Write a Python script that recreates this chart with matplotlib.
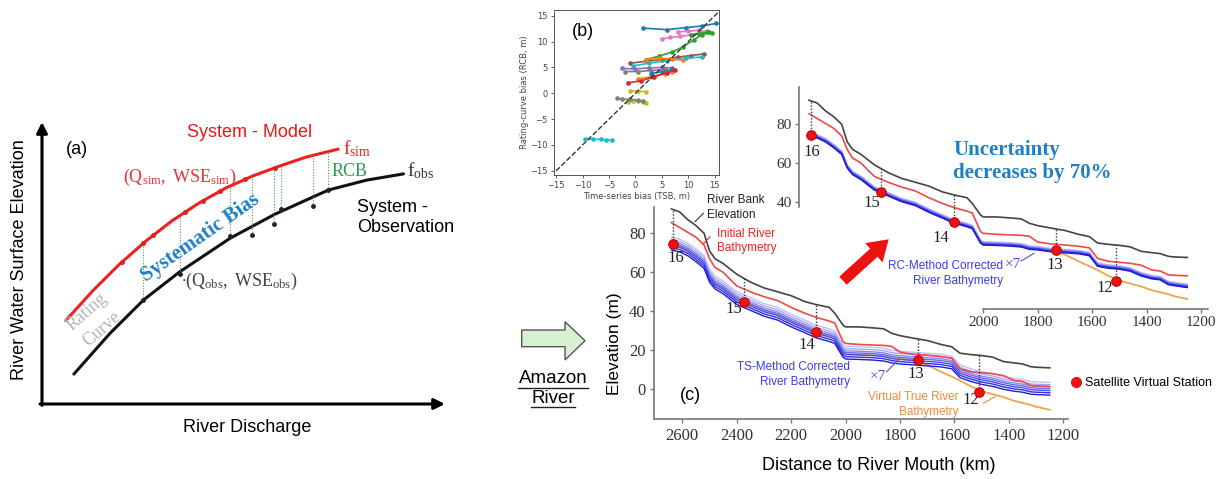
import numpy as np
import matplotlib
matplotlib.use('Agg')
import matplotlib.pyplot as plt
from matplotlib.lines import Line2D
from matplotlib.patches import Polygon, FancyArrow

plt.rcParams['font.family'] = ['Liberation Sans', 'DejaVu Sans']
plt.rcParams['mathtext.fontset'] = 'custom'
plt.rcParams['mathtext.rm'] = 'Liberation Serif'
plt.rcParams['mathtext.it'] = 'Liberation Serif:italic'
plt.rcParams['mathtext.bf'] = 'Liberation Serif:bold'

W, H = 1220, 479
SERIF = 'Liberation Serif'

# ---------------- data: (a) rating-curve schematic (arbitrary units) ----------------
sim_q = [5.9, 12.5, 19.1, 25.7, 32.3, 39.0, 45.6, 52.2, 58.8, 65.4, 73.5]
sim_wse = [29.6, 40.0, 49.4, 57.7, 65.0, 71.3, 76.6, 80.8, 84.3, 87.5, 90.4]
obs_q = [7.9, 16.9, 25.2, 34.2, 46.7, 57.8, 71.1, 80.6, 89.7]
obs_wse = [10.6, 25.1, 36.9, 46.9, 58.8, 67.3, 75.9, 79.4, 81.6]
sim_pts_q = [19.8, 25.1, 27.6, 35.5, 40.0, 44.2, 50.4, 57.8]
obs_pts_q = [25.1, 34.2, 46.7, 52.0, 57.6, 59.2, 67.3, 71.0]
obs_pts_wse = [36.9, 46.1, 59.6, 59.9, 63.8, 69.3, 70.2, 75.9]

# ---------------- data: (b) TSB vs RCB per station ----------------
tsb_series = [
    [1.5, 6.0, 9.5, 12.5, 15.3],
    [5.0, 6.5, 8.5, 10.5, 12.5, 13.5],
    [8.0, 10.0, 12.0],
    [2.0, 4.5, 7.0, 9.0, 11.0, 12.5, 14.0],
    [10.5, 12.0, 13.5, 14.5],
    [-1.0, 2.0, 5.0, 8.0, 10.5, 13.0],
    [-0.5, 2.5, 6.0, 9.5, 12.5],
    [2.0, 4.5, 7.0, 9.0],
    [0.5, 3.0, 5.5, 7.0],
    [-2.5, 0.0, 2.5, 5.0, 7.0],
    [-2.0, 0.5, 3.0, 5.5],
    [3.0, 5.0, 7.0],
    [-1.5, 1.0, 3.5, 6.0, 7.5],
    [-1.0, 0.5, 2.0],
    [-1.5, -0.5, 0.5, 1.5, 2.0],
    [-3.5, -2.5, -1.0, 0.5, 1.5],
    [-9.5, -8.0, -6.5, -5.5, -4.5],
]
rcb_series = [
    [12.6, 12.3, 12.7, 13.0, 13.5],
    [10.5, 10.8, 11.0, 11.3, 11.8, 12.0],
    [11.9, 12.0, 12.2],
    [6.5, 7.2, 8.0, 9.0, 10.3, 11.3, 11.8],
    [11.2, 11.5, 11.8, 11.6],
    [5.8, 6.2, 6.5, 7.0, 7.3, 7.6],
    [5.3, 5.8, 6.3, 6.8, 7.0],
    [6.5, 6.8, 6.6, 6.4],
    [2.8, 3.2, 3.8, 4.2],
    [4.8, 4.7, 4.9, 5.0, 4.9],
    [4.2, 4.2, 4.4, 4.6],
    [3.8, 4.2, 4.6],
    [2.0, 2.4, 3.2, 4.0, 4.5],
    [0.5, 0.4, 0.3],
    [-1.6, -1.5, -1.5, -1.6, -1.9],
    [-1.0, -1.1, -1.2, -1.3, -1.5],
    [-8.8, -8.9, -8.9, -9.0, -9.1],
]
b_colors = ['#1f77b4', '#e377c2', '#e377c2', '#2ca02c', '#2ca02c', '#8c564b', '#17becf',
            '#ff7f0e', '#ff7f0e', '#9467bd', '#7f7f7f', '#1f77b4', '#d62728', '#bcbd22',
            '#bcbd22', '#7f7f7f', '#17becf']
one_to_one = [-16, 16]

# ---------------- data: (c) Amazon river profile ----------------
river_km = [2640, 2610, 2580, 2550, 2520, 2500, 2480, 2450, 2400, 2350, 2300, 2250, 2200,
            2150, 2110, 2060, 2040, 2010, 2000, 1950, 1900, 1860, 1830, 1800, 1750, 1700,
            1650, 1610, 1580, 1540, 1500, 1460, 1420, 1380, 1350, 1320, 1300, 1250]
bank_elev = [92.5, 91, 87, 84, 80, 71, 67, 64.5, 59, 55, 52, 50, 48,
             45, 43.5, 42, 39, 33, 32, 32, 31.5, 31, 28.7, 27.5, 26.2, 25,
             23, 21.8, 18.5, 17.8, 17.3, 16.5, 14.2, 13.5, 13, 11.6, 11.3, 11]
initial_bathy = [85.5, 83, 80.5, 78, 74, 67, 62.5, 60, 53, 50, 47.5, 45.5, 42,
                 39, 37, 35, 34, 24.5, 23.5, 23, 22.7, 22.5, 22, 19, 18, 17.5,
                 16.8, 16, 10.5, 9, 8.5, 8, 7, 4.5, 4, 2, 1.8, 1.5]
true_bathy = [74.5, 73.5, 71.5, 68.5, 65, 58, 54.5, 52, 46.5, 43.5, 40.5, 38.5, 35,
              32, 29.5, 27.5, 26.5, 19, 18, 17.8, 17.5, 17, 15.8, 15.5, 15, 12.5,
              9, 6.5, 4.5, 1.5, -1, -2.5, -4, -6, -7, -8, -9, -10.5]
ts_center = [74.5, 73.5, 71.5, 68.5, 65, 58, 54.5, 52, 46.5, 43.5, 40.5, 38.5, 35,
             32, 29.5, 27.5, 26.5, 19.5, 18.5, 18.3, 18, 17.5, 16.5, 16, 15.5, 15,
             14.5, 13.5, 9, 7, 5.5, 4.5, 3, 2, 1.5, 0.5, 0.3, 0]
ts_offsets = [3.5, 2.3, 1.2, 0.3, -0.7, -1.8, -3.0]
rc_center = [74.5, 73.5, 71.5, 68.5, 65, 58, 54.5, 52, 46.5, 43.5, 40.5, 38.5, 35,
             32, 29.5, 27.5, 26.5, 19, 18, 17.8, 17.5, 17, 15.8, 15.5, 14.5, 14,
             13.5, 12.5, 7, 6, 5.5, 4.5, 2, 0.5, 0, -2.5, -3, -4]
rc_offsets = [1.2, 0.8, 0.5, 0.2, 0.0, -0.3, -0.6]
ens_colors = ['#c0c0f6', '#a8a8f4', '#8888f0', '#6868ee', '#4a4aea', '#3030e4', '#1c1cd6']
station_names = ['16', '15', '14', '13', '12']
station_km = [2634, 2375, 2108, 1733, 1511]
station_elev = [74.5, 44.9, 29.2, 15.0, -1.2]

# label layout (offset points)
main_lbl_off = [(2, -10), (-7, -5), (-7, -9), (-2, -10), (-6, -6)]
inset_lbl_off = [(1, -12), (-7, -8), (-9, -11), (-1, -11), (-8, -5)]

fig = plt.figure(figsize=(W / 100, H / 100), dpi=100)


def box(l, t, r, b):
    return [l / W, 1 - b / H, (r - l) / W, (b - t) / H]


# ======================= (a) =======================
axa = fig.add_axes(box(42, 122, 445, 404))
axa.set_xlim(0, 100)
axa.set_ylim(0, 100)
axa.axis('off')
arw = dict(arrowstyle='-|>', lw=2.2, color='black', mutation_scale=16, shrinkA=0, shrinkB=0)
axa.annotate('', xy=(0, 100), xytext=(0, -0.5), arrowprops=arw, annotation_clip=False)
axa.annotate('', xy=(100, 0), xytext=(-0.5, 0), arrowprops=arw, annotation_clip=False)

axa.plot(sim_q, sim_wse, color='#ee2020', lw=2.2, solid_capstyle='round')
axa.plot(obs_q, obs_wse, color='#111111', lw=2.2, solid_capstyle='round')
for q, w in zip(obs_pts_q, obs_pts_wse):
    axa.plot([q, q], [w, np.interp(q, sim_q, sim_wse)], ls=(0, (1, 1.5)), color='#3aa655', lw=0.8)
axa.plot(sim_pts_q, np.interp(sim_pts_q, sim_q, sim_wse), 'o', color='#dd2020', ms=2.5)
axa.plot(obs_pts_q, obs_pts_wse, 'o', color='#222222', ms=2.5)

axa.text(8.6, 90.4, '(a)', fontsize=13, ha='center', va='center')
axa.text(51.6, 96.1, 'System - Model', fontsize=13, color='#f01515', ha='center', va='center')
axa.text(74.6, 90.4, r'$\mathrm{f_{sim}}$', fontsize=14, color='#ee2020', ha='left', va='center')
axa.text(76.2, 82.6, 'RCB', fontsize=13, color='#2e9d4e', family=SERIF, ha='center', va='center')
axa.text(90.6, 82.6, r'$\mathrm{f_{obs}}$', fontsize=14, color='#333333', ha='left', va='center')
axa.text(78.2, 66.2, 'System -\nObservation', fontsize=13, ha='left', va='center', linespacing=1.25)
axa.text(34.2, 80.5, r'$(\mathrm{Q_{sim}},\ \mathrm{WSE_{sim}})$', fontsize=13, color='#ee3030',
         ha='center', va='center')
axa.text(39.2, 58.9, 'Systematic Bias', fontsize=15, color='#1f7fc4', family=SERIF,
         weight='bold', rotation=35, ha='center', va='center', rotation_mode='anchor')
axa.text(34.5, 43.3, r'$\bullet(\mathrm{Q_{obs}},\ \mathrm{WSE_{obs}})$', fontsize=13,
         color='#444444', ha='left', va='center')
axa.text(11.2, 32.7, 'Rating', fontsize=13, color='#b5b5b5', family=SERIF, rotation=41,
         ha='center', va='center', rotation_mode='anchor')
axa.text(14.8, 26.6, 'Curve', fontsize=13, color='#b5b5b5', family=SERIF, rotation=41,
         ha='center', va='center', rotation_mode='anchor')
axa.text(-5.5, 51.1, 'River Water Surface Elevation', fontsize=13, rotation=90,
         ha='center', va='center')
axa.text(50.9, -8.5, 'River Discharge', fontsize=13, ha='center', va='center')

# ======================= (b) =======================
axb = fig.add_axes(box(554, 10, 719, 175))
for xs, ys, c in zip(tsb_series, rcb_series, b_colors):
    axb.plot(xs, ys, '-o', color=c, lw=1.2, ms=2.3)
axb.plot(one_to_one, one_to_one, '--', color='#333333', lw=1.0)
axb.set_xlim(-15.4, 15.8)
axb.set_ylim(-15.8, 16.1)
axb.set_xticks([-15, -10, -5, 0, 5, 10, 15])
axb.set_yticks([-15, -10, -5, 0, 5, 10, 15])
axb.tick_params(labelsize=6, length=2.5, width=0.6, pad=2, colors='#444444')
for lab in axb.get_xticklabels() + axb.get_yticklabels():
    lab.set_family('DejaVu Sans')
for s in axb.spines.values():
    s.set_color('#555555')
    s.set_linewidth(0.7)
axb.set_xlabel('Time-series bias (TSB, m)', fontsize=6, family='DejaVu Sans', labelpad=1.5, color='#444444')
axb.set_ylabel('Rating-curve bias (RCB, m)', fontsize=6, family='DejaVu Sans', labelpad=1, color='#444444')
axb.text(0.176, 0.867, '(b)', transform=axb.transAxes, fontsize=13, ha='center', va='center')


# ======================= (c) main & inset =======================
def draw_profile(ax, center, offsets, lbl_off, fs):
    ax.plot(river_km, true_bathy, color='#e9a64c', lw=1.3)
    for off, c in zip(offsets, ens_colors):
        ax.plot(river_km, [v + off for v in center], color=c, lw=1.0)
    ax.plot(river_km, initial_bathy, color='#f04848', lw=1.2)
    ax.plot(river_km, bank_elev, color='#444444', lw=1.2)
    rk, rb = river_km[::-1], bank_elev[::-1]
    for km, el in zip(station_km, station_elev):
        ax.plot([km, km], [el, np.interp(km, rk, rb)], ls=(0, (1, 1.3)), color='#333333', lw=1.0)
    ax.plot(station_km, station_elev, 'o', color='#ee1111', mec='#b00000', ms=7, mew=0.6, zorder=5)
    for nm, km, el, off in zip(station_names, station_km, station_elev, lbl_off):
        ax.annotate(nm, (km, el), xytext=off, textcoords='offset points', family=SERIF,
                    fontsize=fs, ha='center', va='center', color='#222222')


axc = fig.add_axes(box(654, 207, 1068, 419.3))
axc.patch.set_alpha(0)
draw_profile(axc, ts_center, ts_offsets, main_lbl_off, 12)
axc.set_xlim(2704, 1183)
axc.set_ylim(-15.4, 93.5)
axc.set_xticks([2600, 2400, 2200, 2000, 1800, 1600, 1400, 1200])
axc.set_yticks([0, 20, 40, 60, 80])
axc.spines['top'].set_visible(False)
axc.spines['right'].set_visible(False)
for s in ('left', 'bottom'):
    axc.spines[s].set_color('#777777')
    axc.spines[s].set_linewidth(1.2)
axc.tick_params(labelsize=12, length=3, width=1, pad=3, colors='#777777', labelcolor='#333333')
for lab in axc.get_xticklabels() + axc.get_yticklabels():
    lab.set_family(SERIF)
axc.legend(handles=[Line2D([], [], marker='o', ls='', color='#ee1111', ms=7)],
           labels=['Satellite Virtual Station'], loc='center left',
           bbox_to_anchor=(1071 / W, 1 - 383.3 / H), bbox_transform=fig.transFigure,
           frameon=False, fontsize=9, handlelength=0.8, handletextpad=0.3,
           borderpad=0, borderaxespad=0)

axi = fig.add_axes(box(799, 86.7, 1208, 309))
axi.patch.set_alpha(0)
draw_profile(axi, rc_center, rc_offsets, inset_lbl_off, 12)
axi.set_xlim(2677, 1174)
axi.set_ylim(-15.7, 99.5)
axi.set_xticks([2000, 1800, 1600, 1400, 1200])
axi.set_yticks([40, 60, 80])
axi.spines['top'].set_visible(False)
axi.spines['right'].set_visible(False)
axi.spines['left'].set_bounds(37.3, 99.5)
axi.spines['bottom'].set_bounds(2000, 1174)
for s in ('left', 'bottom'):
    axi.spines[s].set_color('#777777')
    axi.spines[s].set_linewidth(1.2)
axi.tick_params(labelsize=11, length=3, width=1, pad=2, colors='#777777', labelcolor='#333333')
for lab in axi.get_xticklabels() + axi.get_yticklabels():
    lab.set_family(SERIF)

# ======================= overlay annotations (pixel coordinates) =======================
axo = fig.add_axes([0, 0, 1, 1])
axo.set_xlim(0, W)
axo.set_ylim(H, 0)
axo.axis('off')

# green arrow + Amazon River
axo.add_patch(Polygon([(521.7, 330), (565, 330), (565, 321.7), (585, 340.7), (565, 360),
                       (565, 346.7), (521.7, 346.7)], closed=True, fc='#d7f0d2', ec='#555555', lw=1))
axo.text(553.3, 378.3, 'Amazon', fontsize=13.5, ha='center', va='center')
axo.text(553.3, 398.3, 'River', fontsize=13.5, ha='center', va='center')
axo.plot([518, 588], [387.8, 387.8], color='#222222', lw=1)
axo.plot([531, 575], [407.2, 407.2], color='#222222', lw=1)

# big red arrow to inset
axo.add_patch(FancyArrow(843, 280.7, 45.7, -41.4, width=11, head_width=26, head_length=20,
                         length_includes_head=True, color='#ee1111', lw=0))

axo.text(690, 395, '(c)', fontsize=13, ha='center', va='center')
axo.text(615, 343.3, 'Elevation (m)', fontsize=12.5, rotation=90, ha='center', va='center')
axo.text(878.3, 465, 'Distance to River Mouth (km)', fontsize=13, ha='center', va='center')

axo.text(706.7, 207.5, 'River Bank\nElevation', fontsize=8.5, ha='left', va='center',
         linespacing=1.3, color='#222222')
axo.plot([703.3, 695], [213.3, 221.7], color='#333333', lw=0.8)
axo.text(716.7, 241, 'Initial River\nBathymetry', fontsize=8.5, ha='left', va='center',
         linespacing=1.3, color='#ee2222')
axo.plot([710, 703.3], [236.7, 244], color='#ee2222', lw=0.8)
axo.text(850, 374.2, 'TS-Method Corrected\nRiver Bathymetry', fontsize=8.5, ha='right',
         va='center', multialignment='right', linespacing=1.3, color='#3b3bf5')
axo.text(878.3, 376.7, '\u00d77', fontsize=11, family=SERIF, ha='center', va='center', color='#5050dd')
axo.plot([886.7, 898.3], [371.7, 360], color='#5050dd', lw=0.8)
axo.text(958, 404.5, 'Virtual True River\nBathymetry', fontsize=8.5, ha='right', va='center',
         multialignment='right', linespacing=1.3, color='#f08a3c')
axo.plot([983.3, 995], [403.3, 396.7], color='#f08a3c', lw=0.8)
axo.text(1003, 273.3, 'RC-Method Corrected\nRiver Bathymetry', fontsize=8.5, ha='right',
         va='center', multialignment='right', linespacing=1.3, color='#3b3bf5')
axo.text(1013, 264, '\u00d77', fontsize=11, family=SERIF, ha='center', va='center', color='#5050dd')
axo.plot([1021, 1034], [261, 253.3], color='#5050dd', lw=0.8)
axo.text(953.3, 161.3, 'Uncertainty\ndecreases by 70%', fontsize=15, family=SERIF,
         weight='bold', ha='left', va='center', linespacing=1.2, color='#1f7fc4')

fig.savefig('out.png', dpi=100)
